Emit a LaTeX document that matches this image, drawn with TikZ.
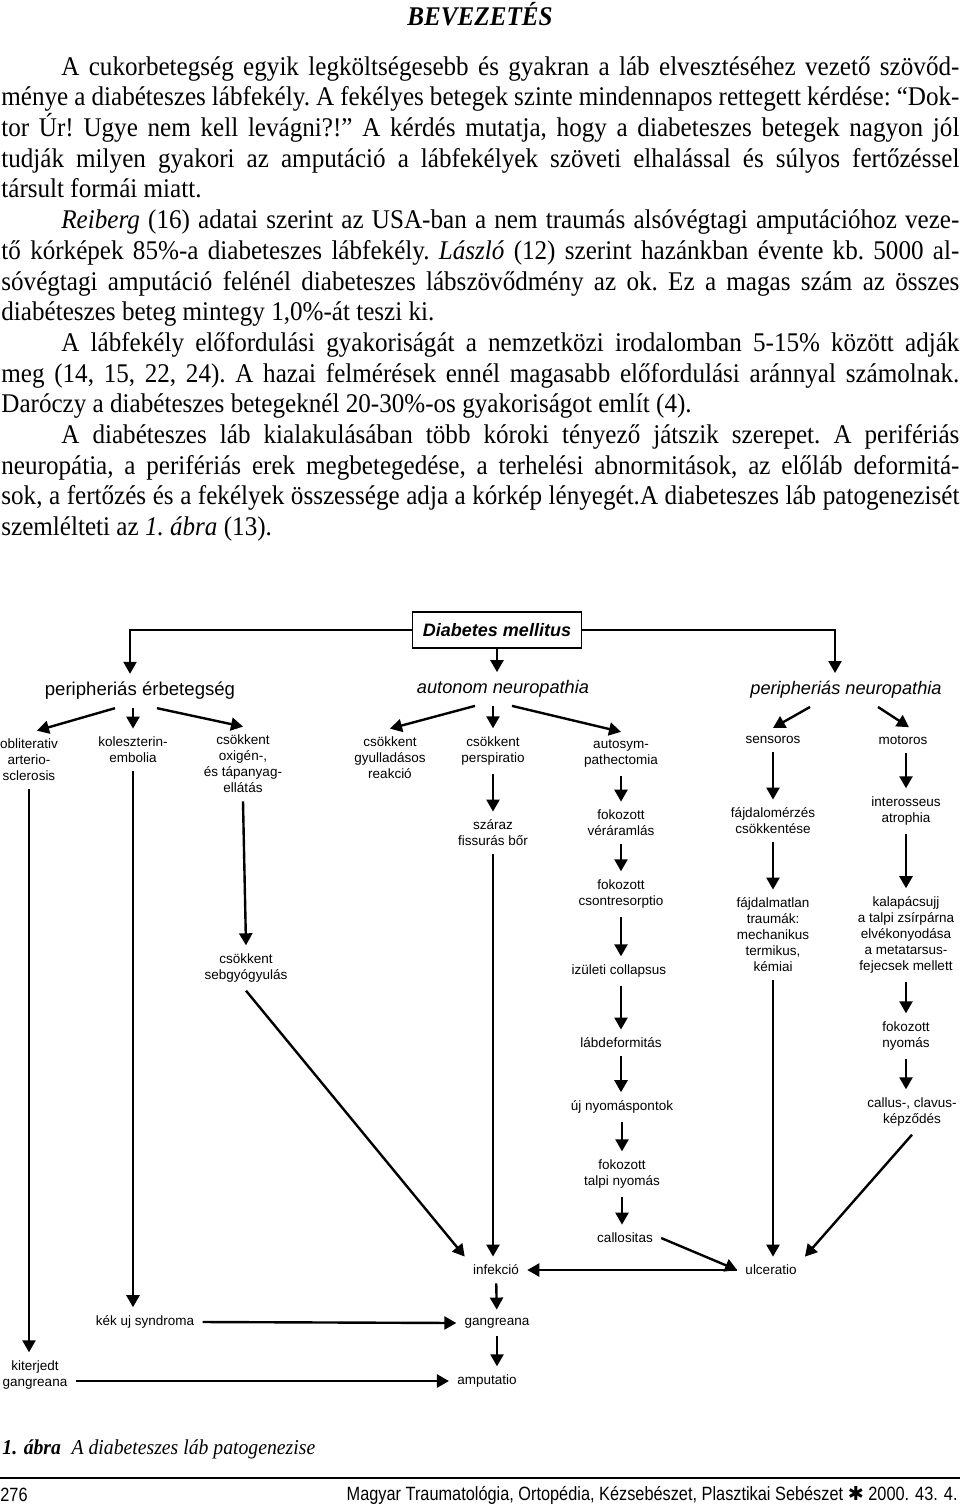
\documentclass[tikz,border=0pt]{standalone}
\usepackage{fontspec}
\setmainfont{Liberation Serif}[FakeStretch=0.93]
\setsansfont{Liberation Sans}
\newfontfamily\narrowsans{Liberation Sans}[FakeStretch=0.85]
\newfontfamily\symfont{DejaVu Sans}
\usetikzlibrary{arrows.meta,calc,positioning}

\begin{document}
\begin{tikzpicture}[x=0.5pt,y=-0.5pt,
  every node/.style={font=\sffamily\fontsize{6.75}{8}\selectfont,align=center,inner sep=4pt},
  mid/.style={font=\sffamily\fontsize{9.3}{11}\selectfont},
  midit/.style={font=\sffamily\itshape\fontsize{9.1}{11}\selectfont},
  arr/.style={line width=1.2pt,-{Triangle[length=6pt,width=6.5pt]}}]
\useasboundingbox[fill=white] (0,0) rectangle (960,1509);

% page text
\node[font=\rmfamily\bfseries\itshape\fontsize{13.5}{15}\selectfont] (head) at (480,14) {BEVEZETÉS};
\node[anchor=north west,inner sep=0pt,text width=479pt,align=justify,
  font=\rmfamily\fontsize{13.5}{15.35}\selectfont] (body) at (1,56) {\frenchspacing\hyphenpenalty=10000
\hspace*{30pt}A cukorbetegség egyik legköltségesebb és gyakran a láb elvesztéséhez vezető szövőd-\linebreak
ménye a diabéteszes lábfekély. A fekélyes betegek szinte mindennapos rettegett kérdése: “Dok-\linebreak
tor Úr! Ugye nem kell levágni?!” A kérdés mutatja, hogy a diabeteszes betegek nagyon jól\linebreak
tudják milyen gyakori az amputáció a lábfekélyek szöveti elhalással és súlyos fertőzéssel\linebreak
társult formái miatt.\par
\hspace*{30pt}\textit{Reiberg} (16) adatai szerint az USA-ban a nem traumás alsóvégtagi amputációhoz veze-\linebreak
tő kórképek 85\%-a diabeteszes lábfekély. \textit{László} (12) szerint hazánkban évente kb. 5000 al-\linebreak
sóvégtagi amputáció felénél diabeteszes lábszövődmény az ok. Ez a magas szám az összes\linebreak
diabéteszes beteg mintegy 1,0\%-át teszi ki.\par
\hspace*{30pt}A lábfekély előfordulási gyakoriságát a nemzetközi irodalomban 5-15\% között adják\linebreak
meg (14, 15, 22, 24). A hazai felmérések ennél magasabb előfordulási aránnyal számolnak.\linebreak
Daróczy a diabéteszes betegeknél 20-30\%-os gyakoriságot említ (4).\par
\hspace*{30pt}A diabéteszes láb kialakulásában több kóroki tényező játszik szerepet. A perifériás\linebreak
neuropátia, a perifériás erek megbetegedése, a terhelési abnormitások, az előláb deformitá-\linebreak
sok, a fertőzés és a fekélyek összessége adja a kórkép lényegét.A diabeteszes láb patogenezisét\linebreak
szemlélteti az \textit{1. ábra} (13).\par};

% top of the diagram
\node[draw,line width=0.8pt,minimum width=84.5pt,minimum height=18pt,
  font=\sffamily\bfseries\itshape\fontsize{9}{11}\selectfont] (dm) at (497,630) {Diabetes mellitus};
\node[mid] (perer) at (140,691) {peripheriás érbetegség};
\node[midit] (autneu) at (503,689) {autonom neuropathia};
\node[midit] (perneu) at (846,690) {peripheriás neuropathia};

% erbetegseg
\node (oblit) at (29,760) {obliterativ\\arterio-\\sclerosis};
\node (kolesz) at (133,750) {koleszterin-\\embolia};
\node (oxig) at (243,764) {csökkent\\oxigén-,\\és tápanyag-\\ellátás};
\node (sebgy) at (246,968) {csökkent\\sebgyógyulás};
\node (kekuj) at (145,1322) {kék uj syndroma};
\node (kiterj) at (35,1375) {kiterjedt\\gangreana};

% autonom neuropathia
\node (gyull) at (390,758) {csökkent\\gyulladásos\\reakció};
\node (persp) at (493,751) {csökkent\\perspiratio};
\node (szaraz) at (493,833) {száraz\\fissurás bőr};
\node (autos) at (621,754) {autosym-\\pathectomia};
\node (verar) at (621,823) {fokozott\\véráramlás};
\node (csontr) at (621,894) {fokozott\\csontresorptio};
\node (izul) at (619,971) {izületi collapsus};
\node (labdef) at (621,1043) {lábdeformitás};
\node (ujny) at (622,1107) {új nyomáspontok};
\node (talpi) at (622,1174) {fokozott\\talpi nyomás};
\node (callos) at (625,1238) {callositas};
\node (infek) at (496,1270) {infekció};
\node (ulcer) at (771,1270) {ulceratio};
\node (gangr) at (497,1323) {gangreana};
\node (amput) at (487,1381) {amputatio};

% peripherias neuropathia
\node (sens) at (773,740) {sensoros};
\node (mot) at (903,740) {motoros};
\node (fajd) at (773,821) {fájdalomérzés\\csökkentése};
\node (trauma) at (773,935) {fájdalmatlan\\traumák:\\mechanikus\\termikus,\\kémiai};
\node (inter) at (906,811) {interosseus\\atrophia};
\node (kalap) at (906,935) {kalapácsujj\\a talpi zsírpárna\\elvékonyodása\\a metatarsus-\\fejecsek mellett};
\node (fokny) at (906,1036) {fokozott\\nyomás};
\node (callus) at (912,1112) {callus-, clavus-\\képződés};

% arrows from the top
\draw[arr] (dm.west) -| ($(perer.north)+(-10,0)$);
\draw[arr] (dm.east) -| ($(perneu.north)+(-11,0)$);
\draw[arr] (dm.south) -- (dm.south |- autneu.north);

\draw[arr] ($(perer.south)+(-25,0)$) -- ($(oblit.north)+(8,0)$);
\draw[arr] (perer.south -| kolesz.north) -- (kolesz.north);
\draw[arr] ($(perer.south)+(17,0)$) -- (oxig.north);
\draw[arr] (oblit.south) -- (oblit.south |- kiterj.north);
\draw[arr] (kolesz.south) -- (kolesz.south |- kekuj.north);
\draw[arr] (oxig.south) -- (sebgy.north);
\draw[arr] (sebgy.south) -- (infek.north west);
\draw[arr] (kekuj.east) -- (gangr.west);
\draw[arr] (kiterj.east |- amput.west) -- (amput.west);

\draw[arr] ($(autneu.south)+(-28,0)$) -- (gyull.north);
\draw[arr] (autneu.south -| persp.north) -- (persp.north);
\draw[arr] ($(autneu.south)+(9,0)$) -- (autos.north);
\draw[arr] (persp) -- (szaraz);
\draw[arr] (szaraz.south) -- (szaraz.south |- infek.north);
\draw[arr] (autos) -- (verar);
\draw[arr] (verar) -- (csontr);
\draw[arr] (csontr.south) -- (csontr.south |- izul.north);
\draw[arr] (izul.south -| labdef.north) -- (labdef.north);
\draw[arr] (labdef.south) -- (labdef.south |- ujny.north);
\draw[arr] (ujny) -- (talpi);
\draw[arr] (talpi.south) -- (talpi.south |- callos.north);
\draw[arr] (callos.east) -- (ulcer.west);
\draw[arr] (ulcer.west) -- (infek.east);
\draw[arr] (infek) -- (gangr);
\draw[arr] (gangr.south) -- (gangr.south |- amput.north);

\draw[arr] ($(perneu.south)+(-36,0)$) -- (sens.north);
\draw[arr] ($(perneu.south)+(32,0)$) -- ($(mot.north)+(6,0)$);
\draw[arr] (sens) -- (fajd);
\draw[arr] (fajd) -- (trauma);
\draw[arr] (trauma.south) -- (trauma.south |- ulcer.north);
\draw[arr] (mot.south -| inter.north) -- (inter.north);
\draw[arr] (inter) -- (kalap);
\draw[arr] (kalap) -- (fokny);
\draw[arr] (fokny.south) -- (fokny.south |- callus.north);
\draw[arr] (callus.south) -- (ulcer.north east);

% caption and footer
\node[anchor=west,inner sep=0pt,font=\rmfamily\fontsize{10.6}{12}\selectfont] (capt) at (2,1449)
  {\textbf{\textit{1. ábra}}\enspace\textit{A diabeteszes láb patogenezise}};
\draw[line width=1pt] (0,1478) -- (960,1478);
\node[anchor=west,inner sep=0pt,font=\narrowsans\fontsize{9.6}{10}\selectfont] (page) at (0,1495) {276};
\node[anchor=east,inner sep=0pt,font=\narrowsans\fontsize{9.6}{10}\selectfont] (journal) at (958,1495)
  {Magyar Traumatológia, Ortopédia, Kézsebészet, Plasztikai Sebészet {\symfont ✱} 2000. 43. 4.};
\end{tikzpicture}
\end{document}
